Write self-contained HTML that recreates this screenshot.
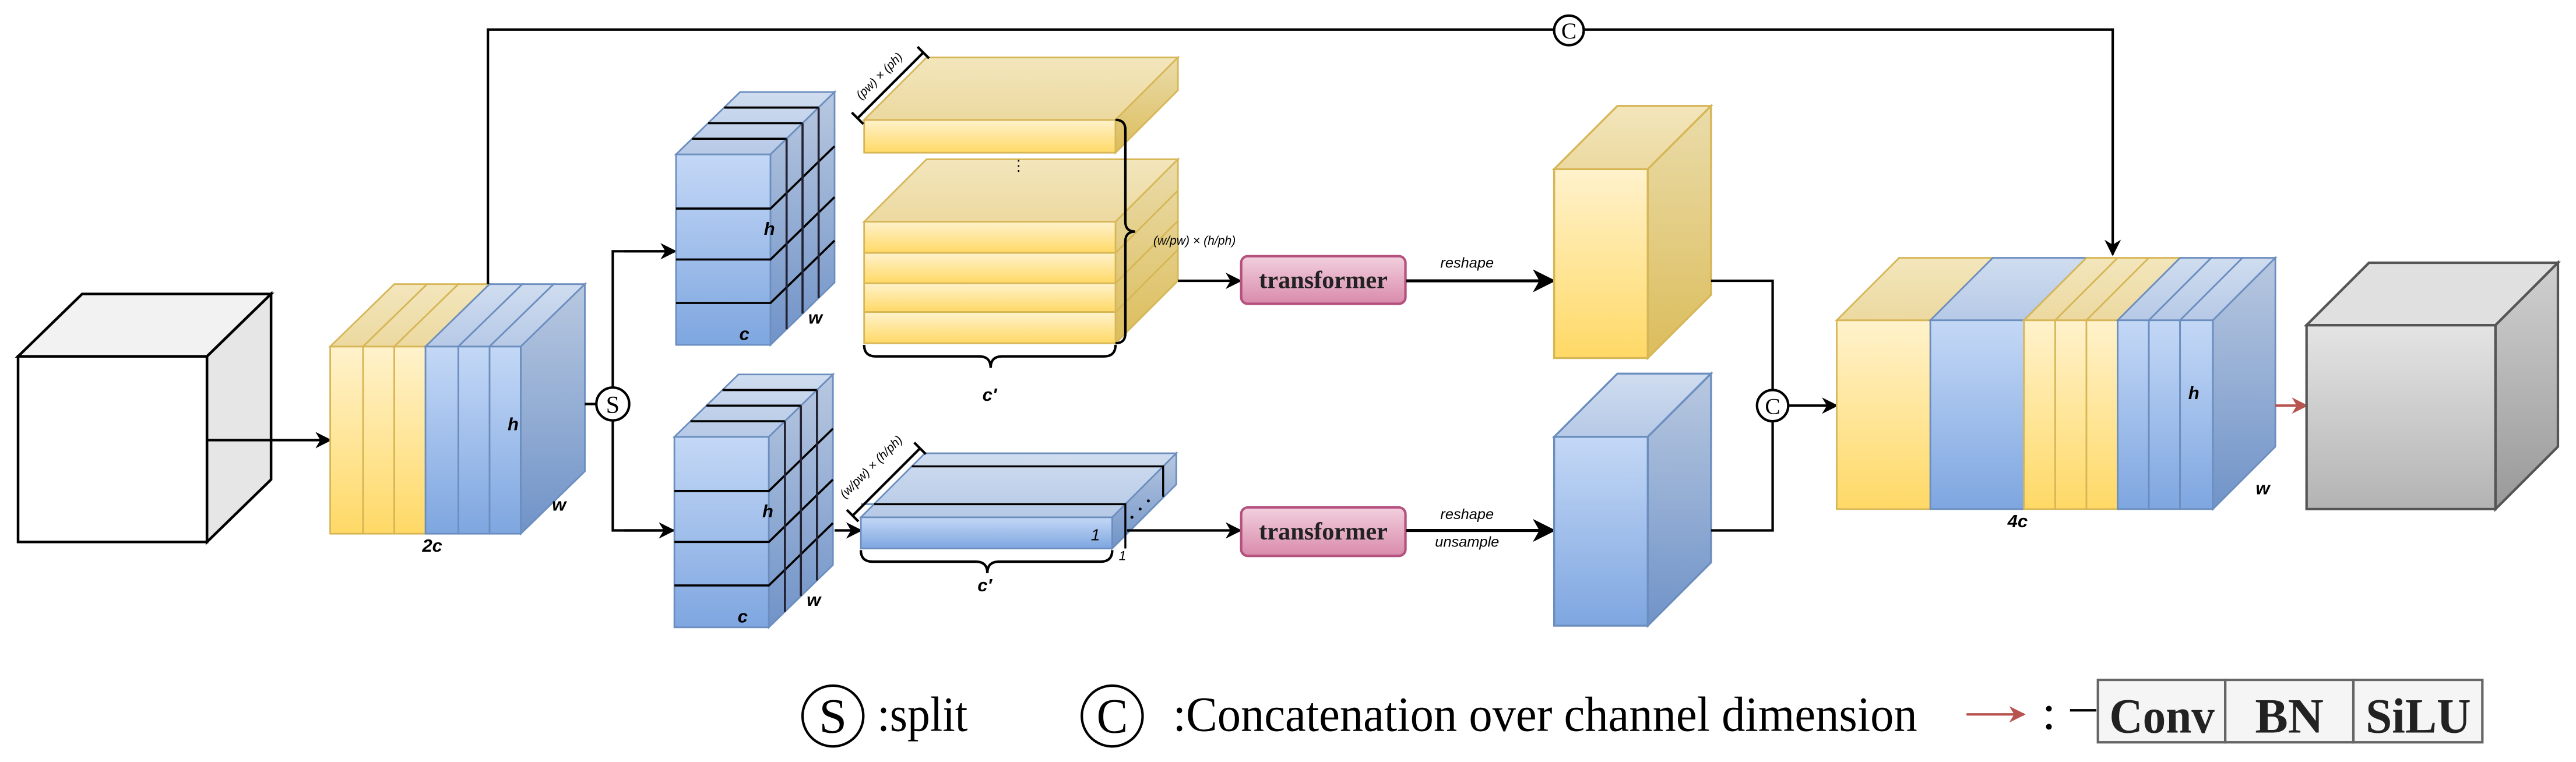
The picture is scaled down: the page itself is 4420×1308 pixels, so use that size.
<!DOCTYPE html>
<html><head><meta charset="utf-8"><style>
html,body{margin:0;padding:0;background:#fff;}
svg{display:block;}
.lb{font-family:"Liberation Sans",sans-serif;font-style:italic;font-weight:bold;font-size:11px;fill:#000;}
.sm{font-family:"Liberation Sans",sans-serif;font-style:italic;font-size:7.5px;fill:#000;}
.tr{font-family:"Liberation Serif",serif;font-weight:bold;font-size:15px;fill:#222;}
.lg{font-family:"Liberation Serif",serif;font-size:30px;fill:#000;}
.tb{font-family:"Liberation Serif",serif;font-weight:bold;font-size:30px;fill:#222;}
</style></head><body>
<svg width="4420" height="1308" viewBox="0 0 1568 464" preserveAspectRatio="none" xmlns="http://www.w3.org/2000/svg">
<defs>
<linearGradient id="yf" x1="0" y1="0" x2="0" y2="1"><stop offset="0" stop-color="#fff2cc"/><stop offset="1" stop-color="#ffd966"/></linearGradient>
<linearGradient id="yt" x1="0" y1="0" x2="0" y2="1"><stop offset="0" stop-color="#f3e6bc"/><stop offset="1" stop-color="#ecd9a0"/></linearGradient>
<linearGradient id="ys" x1="0" y1="0" x2="0" y2="1"><stop offset="0" stop-color="#eadcaa"/><stop offset="1" stop-color="#dcbd5c"/></linearGradient>
<linearGradient id="bf" x1="0" y1="0" x2="0" y2="1"><stop offset="0" stop-color="#c4d8f6"/><stop offset="1" stop-color="#7ea6e0"/></linearGradient>
<linearGradient id="bt" x1="0" y1="0" x2="0" y2="1"><stop offset="0" stop-color="#d0ddf0"/><stop offset="1" stop-color="#b6c9e6"/></linearGradient>
<linearGradient id="bs" x1="0" y1="0" x2="0" y2="1"><stop offset="0" stop-color="#b8c8e0"/><stop offset="1" stop-color="#7093c8"/></linearGradient>
<linearGradient id="gf" x1="0" y1="0" x2="0" y2="1"><stop offset="0" stop-color="#e4e4e4"/><stop offset="1" stop-color="#b3b3b3"/></linearGradient>
<linearGradient id="gs" x1="0" y1="0" x2="0" y2="1"><stop offset="0" stop-color="#d0d0d0"/><stop offset="1" stop-color="#999"/></linearGradient>
<linearGradient id="pk" x1="0" y1="0" x2="0" y2="1"><stop offset="0" stop-color="#f2d0de"/><stop offset="1" stop-color="#d98aab"/></linearGradient>
<marker id="ar" markerWidth="10" markerHeight="10" refX="9" refY="5" orient="auto" markerUnits="userSpaceOnUse"><path d="M0,0 L10,5 L0,10 L3,5 Z" fill="#000"/></marker>
<marker id="ab" markerWidth="14" markerHeight="14" refX="13" refY="7" orient="auto" markerUnits="userSpaceOnUse"><path d="M0,0 L14,7 L0,14 L4,7 Z" fill="#000"/></marker>
<marker id="rr" markerWidth="10" markerHeight="10" refX="9" refY="5" orient="auto" markerUnits="userSpaceOnUse"><path d="M0,0 L10,5 L0,10 L3,5 Z" fill="#b85450"/></marker>
</defs>

<g stroke="#000" stroke-width="1.6">
<rect x="11" y="217" width="115" height="113" fill="#fff"/>
<polygon points="11,217 50,179 165,179 126,217" fill="#f2f2f2"/>
<polygon points="126,217 165,179 165,292 126,330" fill="#e6e6e6"/>
</g>
<line x1="126" y1="268" x2="201" y2="268" stroke="#000" stroke-width="1.5" marker-end="url(#ar)"/>

<g stroke-width="1">
<g stroke="#d6b656">
<rect x="201" y="211" width="20" height="114" fill="url(#yf)"/>
<rect x="221" y="211" width="19" height="114" fill="url(#yf)"/>
<rect x="240" y="211" width="19" height="114" fill="url(#yf)"/>
<polygon points="201,211 240,173 260,173 221,211" fill="url(#yt)"/>
<polygon points="221,211 260,173 279,173 240,211" fill="url(#yt)"/>
<polygon points="240,211 279,173 298,173 259,211" fill="url(#yt)"/>
</g>
<g stroke="#6c8ebf">
<rect x="259" y="211" width="20" height="114" fill="url(#bf)"/>
<rect x="279" y="211" width="19" height="114" fill="url(#bf)"/>
<rect x="298" y="211" width="19" height="114" fill="url(#bf)"/>
<polygon points="259,211 298,173 318,173 279,211" fill="url(#bt)"/>
<polygon points="279,211 318,173 337,173 298,211" fill="url(#bt)"/>
<polygon points="298,211 337,173 356,173 317,211" fill="url(#bt)"/>
<polygon points="317,211 356,173 356,287 317,325" fill="url(#bs)"/>
</g>
</g>
<text class="lb" x="309" y="262">h</text>
<text class="lb" x="336" y="311">w</text>
<text class="lb" x="257" y="336">2c</text>

<polyline points="297,173 297,18 1286,18 1286,155" fill="none" stroke="#000" stroke-width="1.5" marker-end="url(#ar)"/>
<circle cx="955" cy="18.5" r="9" fill="#fff" stroke="#000" stroke-width="1.5"/>
<text x="955" y="23.5" text-anchor="middle" font-family="Liberation Serif,serif" font-size="14">C</text>

<line x1="356" y1="246" x2="364" y2="246" stroke="#000" stroke-width="1.5"/>
<polyline points="409,153 373,153 373,323 409,323" fill="none" stroke="#000" stroke-width="1.5"/>
<line x1="380" y1="153" x2="411" y2="153" stroke="#000" stroke-width="1.5" marker-end="url(#ar)"/>
<line x1="380" y1="323" x2="410" y2="323" stroke="#000" stroke-width="1.5" marker-end="url(#ar)"/>
<circle cx="373" cy="246" r="10" fill="#fff" stroke="#000" stroke-width="1.5"/>
<text x="373" y="251.5" text-anchor="middle" font-family="Liberation Serif,serif" font-size="15">S</text>

<g>
<rect x="411.5" y="94" width="57.5" height="116" fill="url(#bf)" stroke="#6c8ebf"/>
<polygon points="411.5,94 450.5,56 508,56 469,94" fill="url(#bt)" stroke="#6c8ebf"/>
<polygon points="469,94 508,56 508,172 469,210" fill="url(#bs)" stroke="#6c8ebf"/>
<g stroke="#000" stroke-width="1.3" fill="none">
<path d="M411.5,127 H469 L508,89 M411.5,158 H469 L508,120 M411.5,184.5 H469 L508,146.5"/>
<path d="M421.3,84.5 H478.8 M431,75 H488.5 M440.8,65.5 H498.3"/>
<path d="M478.8,84.5 V200.5 M488.5,75 V191 M498.3,65.5 V181.5" stroke="#223"/>
</g>
</g>
<text class="lb" x="465" y="143">h</text>
<text class="lb" x="450" y="207">c</text>
<text class="lb" x="492" y="197">w</text>

<g transform="translate(-1,172)">
<rect x="411.5" y="94" width="57.5" height="116" fill="url(#bf)" stroke="#6c8ebf"/>
<polygon points="411.5,94 450.5,56 508,56 469,94" fill="url(#bt)" stroke="#6c8ebf"/>
<polygon points="469,94 508,56 508,172 469,210" fill="url(#bs)" stroke="#6c8ebf"/>
<g stroke="#000" stroke-width="1.3" fill="none">
<path d="M411.5,127 H469 L508,89 M411.5,158 H469 L508,120 M411.5,184.5 H469 L508,146.5"/>
<path d="M421.3,84.5 H478.8 M431,75 H488.5 M440.8,65.5 H498.3"/>
<path d="M478.8,84.5 V200.5 M488.5,75 V191 M498.3,65.5 V181.5" stroke="#223"/>
</g>
<text class="lb" x="465" y="143">h</text>
<text class="lb" x="450" y="207">c</text>
<text class="lb" x="492" y="197">w</text>
</g>

<g stroke="#d6b656" stroke-width="1">
<rect x="526" y="73" width="153" height="20" fill="url(#yf)"/>
<polygon points="526,73 564,35 717,35 679,73" fill="url(#yt)"/>
<polygon points="679,73 717,35 717,55 679,93" fill="url(#ys)"/>
<polygon points="526,135 564,97 717,97 679,135" fill="url(#yt)"/>
<polygon points="679,135 717,97 717,171 679,209" fill="url(#ys)"/>
<rect x="526" y="135" width="153" height="19" fill="url(#yf)"/>
<rect x="526" y="154" width="153" height="18.5" fill="url(#yf)"/>
<rect x="526" y="172.5" width="153" height="17.5" fill="url(#yf)"/>
<rect x="526" y="190" width="153" height="19" fill="url(#yf)"/>
<path d="M679,154 L717,116 M679,172.5 L717,134.5 M679,190 L717,152" fill="none"/>
</g>
<text x="620" y="104" font-family="Liberation Sans,sans-serif" font-size="9" text-anchor="middle">⋮</text>
<g stroke="#000" stroke-width="1.5" fill="none">
<path d="M522,72 L562,32 M518.5,68.5 L525.5,75.5 M558.5,28.5 L565.5,35.5"/>
<path d="M679,73 q6,0 6,6 L685,135 q0,6 6,6 q-6,0 -6,6 L685,203 q0,6 -6,6"/>
<path d="M526,210 q0,7 7,7 L596,217 q7,0 7,7 q0,-7 7,-7 L672,217 q7,0 7,-7"/>
</g>
<text class="sm" transform="translate(537,48) rotate(-45)" text-anchor="middle">(pw) × (ph)</text>
<text class="sm" x="702" y="149">(w/pw) × (h/ph)</text>
<text class="lb" x="598" y="244">c′</text>

<line x1="508" y1="323" x2="524" y2="323" stroke="#000" stroke-width="1.5" marker-end="url(#ar)"/>
<g stroke="#6c8ebf" stroke-width="1">
<polygon points="524,315 563,276 716,276 677,315" fill="url(#bt)"/>
<polygon points="677,315 716,276 716,295 677,334" fill="url(#bs)"/>
<rect x="524" y="315" width="153" height="19" fill="url(#bf)"/>
<line x1="524" y1="307" x2="685" y2="307" stroke="#7090c0"/>
</g>
<g stroke="#000" stroke-width="1.2" fill="none">
<path d="M532,307 H685 V334"/>
<path d="M555,284 H708 V302.5"/>
<path d="M519,314 L560,273 M515.5,310.5 L522.5,317.5 M556.5,269.5 L563.5,276.5" stroke-width="1.5"/>
<path d="M524,335 q0,7 7,7 L594,342 q7,0 7,7 q0,-7 7,-7 L670,342 q7,0 7,-7" stroke-width="1.5"/>
</g>
<circle cx="689" cy="315" r="0.9"/><circle cx="694" cy="310" r="0.9"/><circle cx="699" cy="305" r="0.9"/>
<text class="lb" x="664" y="329" style="font-weight:normal;font-size:10px">1</text>
<text class="lb" x="681" y="341" style="font-weight:normal;font-size:8px">1</text>
<text class="sm" transform="translate(532,286) rotate(-45)" text-anchor="middle">(w/pw) × (h/ph)</text>
<text class="lb" x="595" y="360">c′</text>

<line x1="717" y1="171" x2="755" y2="171" stroke="#000" stroke-width="1.5" marker-end="url(#ar)"/>
<line x1="686" y1="323" x2="755" y2="323" stroke="#000" stroke-width="1.5" marker-end="url(#ar)"/>
<rect x="755.5" y="156" width="100" height="29" rx="4" fill="url(#pk)" stroke="#b5517f" stroke-width="1.5"/>
<text class="tr" x="805.5" y="175.5" text-anchor="middle">transformer</text>
<rect x="755.5" y="309" width="100" height="29.5" rx="4" fill="url(#pk)" stroke="#b5517f" stroke-width="1.5"/>
<text class="tr" x="805.5" y="328.5" text-anchor="middle">transformer</text>
<line x1="856" y1="171" x2="946" y2="171" stroke="#000" stroke-width="1.8" marker-end="url(#ab)"/>
<line x1="856" y1="323" x2="946" y2="323" stroke="#000" stroke-width="1.8" marker-end="url(#ab)"/>
<text class="sm" style="font-size:9px" x="893" y="163" text-anchor="middle">reshape</text>
<text class="sm" style="font-size:9px" x="893" y="316" text-anchor="middle">reshape</text>
<text class="sm" style="font-size:9px" x="893" y="333" text-anchor="middle">unsample</text>

<g stroke-width="1.2">
<rect x="946" y="103" width="57" height="115" fill="url(#yf)" stroke="#d6b656"/>
<polygon points="946,103 984.5,64.5 1041.5,64.5 1003,103" fill="url(#yt)" stroke="#d6b656"/>
<polygon points="1003,103 1041.5,64.5 1041.5,179.5 1003,218" fill="url(#ys)" stroke="#d6b656"/>
<rect x="946" y="266" width="57" height="115" fill="url(#bf)" stroke="#6c8ebf"/>
<polygon points="946,266 984.5,227.5 1041.5,227.5 1003,266" fill="url(#bt)" stroke="#6c8ebf"/>
<polygon points="1003,266 1041.5,227.5 1041.5,342.5 1003,381" fill="url(#bs)" stroke="#6c8ebf"/>
</g>
<polyline points="1041.5,171 1079,171 1079,323 1041.5,323" fill="none" stroke="#000" stroke-width="1.5"/>
<line x1="1089" y1="247" x2="1118" y2="247" stroke="#000" stroke-width="1.5" marker-end="url(#ar)"/>
<circle cx="1079" cy="247" r="9.5" fill="#fff" stroke="#000" stroke-width="1.5"/>
<text x="1079" y="252" text-anchor="middle" font-family="Liberation Serif,serif" font-size="14">C</text>

<g stroke-width="1">
<g stroke="#d6b656">
<rect x="1118" y="195" width="57" height="115" fill="url(#yf)"/>
<polygon points="1118,195 1156,157 1213,157 1175,195" fill="url(#yt)"/>
</g>
<g stroke="#6c8ebf">
<rect x="1175" y="195" width="57" height="115" fill="url(#bf)"/>
<polygon points="1175,195 1213,157 1270,157 1232,195" fill="url(#bt)"/>
</g>
<g stroke="#d6b656">
<rect x="1232" y="195" width="19" height="115" fill="url(#yf)"/>
<rect x="1251" y="195" width="19" height="115" fill="url(#yf)"/>
<rect x="1270" y="195" width="19" height="115" fill="url(#yf)"/>
<polygon points="1232,195 1270,157 1289,157 1251,195" fill="url(#yt)"/>
<polygon points="1251,195 1289,157 1308,157 1270,195" fill="url(#yt)"/>
<polygon points="1270,195 1308,157 1327,157 1289,195" fill="url(#yt)"/>
</g>
<g stroke="#6c8ebf">
<rect x="1289" y="195" width="19" height="115" fill="url(#bf)"/>
<rect x="1308" y="195" width="19" height="115" fill="url(#bf)"/>
<rect x="1327" y="195" width="20" height="115" fill="url(#bf)"/>
<polygon points="1289,195 1327,157 1346,157 1308,195" fill="url(#bt)"/>
<polygon points="1308,195 1346,157 1365,157 1327,195" fill="url(#bt)"/>
<polygon points="1327,195 1365,157 1385,157 1347,195" fill="url(#bt)"/>
<polygon points="1347,195 1385,157 1385,272 1347,310" fill="url(#bs)"/>
</g>
</g>
<text class="lb" x="1332" y="243">h</text>
<text class="lb" x="1373" y="301">w</text>
<text class="lb" x="1222" y="321">4c</text>
<line x1="1385" y1="247" x2="1404" y2="247" stroke="#b85450" stroke-width="1.5" marker-end="url(#rr)"/>

<g stroke="#555" stroke-width="1.5">
<rect x="1404" y="198" width="115" height="112" fill="url(#gf)"/>
<polygon points="1404,198 1442,160 1557,160 1519,198" fill="#e0e0e0"/>
<polygon points="1519,198 1557,160 1557,272 1519,310" fill="url(#gs)"/>
</g>

<circle cx="507" cy="436" r="18.5" fill="#fff" stroke="#000" stroke-width="1.5"/>
<text class="lg" x="507" y="446" text-anchor="middle" textLength="17" lengthAdjust="spacingAndGlyphs">S</text>
<text class="lg" x="534" y="445" textLength="55" lengthAdjust="spacingAndGlyphs">:split</text>
<circle cx="677" cy="436" r="18.5" fill="#fff" stroke="#000" stroke-width="1.5"/>
<text class="lg" x="677" y="446" text-anchor="middle" textLength="19" lengthAdjust="spacingAndGlyphs">C</text>
<text class="lg" x="714" y="445" textLength="453" lengthAdjust="spacingAndGlyphs">:Concatenation over channel dimension</text>
<line x1="1197" y1="435" x2="1232" y2="435" stroke="#b85450" stroke-width="1.5" marker-end="url(#rr)"/>
<text class="lg" x="1243" y="444">:</text>
<line x1="1260" y1="432.5" x2="1276" y2="432.5" stroke="#000" stroke-width="1.5"/>
<g fill="#f5f5f5" stroke="#666" stroke-width="1.5">
<rect x="1277" y="414" width="77.5" height="38"/>
<rect x="1354.5" y="414" width="78" height="38"/>
<rect x="1432.5" y="414" width="78.5" height="38"/>
</g>
<text class="tb" x="1316" y="446" text-anchor="middle" textLength="64" lengthAdjust="spacingAndGlyphs">Conv</text>
<text class="tb" x="1393.5" y="446" text-anchor="middle">BN</text>
<text class="tb" x="1472" y="446" text-anchor="middle" textLength="64" lengthAdjust="spacingAndGlyphs">SiLU</text>
</svg>
</body></html>
